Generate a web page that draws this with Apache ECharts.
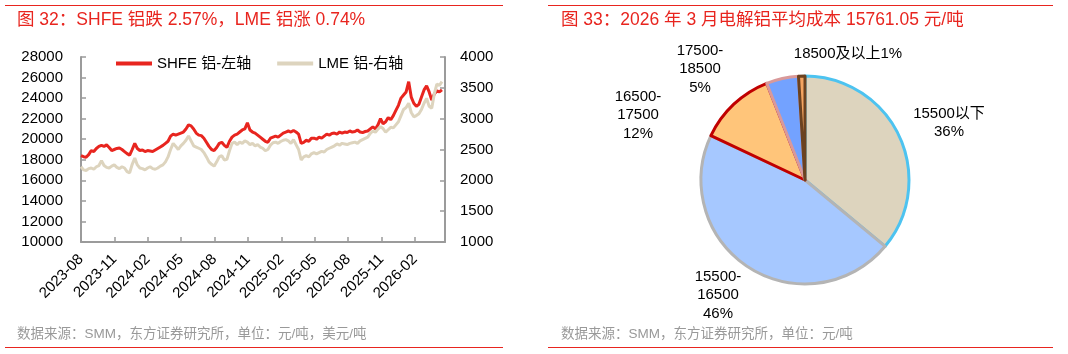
<!DOCTYPE html>
<html>
<head>
<meta charset="utf-8">
<script src="https://cdn.jsdelivr.net/npm/echarts@6/dist/echarts.min.js"></script>
<style>
  html, body { margin: 0; padding: 0; background: #fff; }
  #main { width: 1068px; height: 354px; }
</style>
</head>
<body>
<div id="main"></div>
<script>
// weekly closes from 2023-08 (one value per week)
const shfe = [
  18400,18300,18250,18500,18900,18800,19100,19300,19400,19300,
  19450,19200,18900,19000,19100,19150,19000,18800,18600,18450,
  19000,19600,19100,18900,18950,18800,18900,18850,18800,18950,
  19100,19250,19400,19600,19800,20300,20500,20400,20500,20600,
  20700,21000,21400,21300,21000,20600,20400,20350,20100,19700,
  19300,19000,18900,19200,19600,19700,19400,19200,19800,20200,
  20400,20500,20700,20900,21000,21600,20900,20700,20600,20400,
  20200,20000,19800,19700,20100,20200,20300,20200,20400,20600,
  20700,20800,20700,20850,20700,20500,19600,19700,19900,19800,
  20100,20100,20000,20200,20100,20300,20500,20400,20550,20600,
  20500,20700,20600,20700,20650,20800,20700,20750,20900,20700,
  20650,20750,20800,21000,21200,21000,21400,22000,21500,21700,
  22100,21900,22300,22800,23300,24000,24300,24600,25600,24100,
  23500,23200,23400,24100,24800,25200,24600,23800,24400,24700,
  24600,24800
];
const lme = [
  2220,2170,2160,2190,2200,2180,2220,2240,2320,2240,
  2210,2200,2230,2250,2210,2190,2220,2200,2140,2120,
  2260,2360,2250,2200,2190,2170,2200,2220,2190,2180,
  2200,2230,2250,2300,2380,2500,2600,2550,2500,2560,
  2600,2650,2720,2640,2560,2540,2520,2500,2450,2380,
  2300,2260,2230,2300,2380,2400,2330,2340,2480,2600,
  2620,2580,2620,2600,2640,2620,2580,2600,2560,2580,
  2540,2520,2480,2500,2570,2610,2620,2600,2630,2650,
  2660,2640,2600,2660,2580,2500,2330,2380,2400,2380,
  2430,2450,2430,2450,2470,2460,2500,2520,2540,2560,
  2590,2570,2600,2590,2580,2600,2610,2620,2600,2640,
  2660,2680,2700,2760,2800,2780,2830,2870,2840,2780,
  2820,2860,2850,2900,2950,3050,3150,3180,3250,3100,
  3030,3050,3080,3150,3250,3330,3200,3170,3400,3560,
  3540,3600
];
const xTickLabels = ['2023-08','2023-11','2024-02','2024-05','2024-08','2024-11',
                     '2025-02','2025-05','2025-08','2025-11','2026-02'];

const costNames = ['15500以下', '15500-16500', '16500-17500', '17500-18500', '18500及以上'];
const costShare = [36, 46, 12, 5, 1];

const FONT = '"Liberation Sans", "Noto Sans CJK SC", sans-serif';
const RED = '#e8251f';

// week index -> months since 2023-08
function monthPos(i) { return i * 7 / 30.4375; }

const pieFill = ['#ddd4be', '#a6c8ff', '#ffc57a', '#73a2ff', '#f4a460'];
const pieBorder = ['#4dc3f0', '#b4b4b4', '#c00000', '#d9999a', '#6b4220'];
const pieLabelAt = [[949, 123], [718, 295], [638, 115], [700, 69], [848, 54]];

const chart = echarts.init(document.getElementById('main'));

const axisGray = '#9b9b9b';

const option = {
  animation: false,
  textStyle: { fontFamily: FONT },
  legend: {
    left: 116,
    top: 56,
    padding: 0,
    icon: 'rect',
    itemWidth: 36,
    itemHeight: 4,
    itemGap: 26,
    textStyle: { fontSize: 15, color: '#000', fontFamily: FONT },
    data: ['SHFE 铝-左轴', 'LME 铝-右轴']
  },
  grid: { left: 81, top: 57, width: 364, height: 185 },
  xAxis: {
    type: 'value',
    min: 0,
    max: 32.7,
    interval: 3,
    splitLine: { show: false },
    axisLine: { lineStyle: { color: axisGray, width: 2 } },
    axisTick: { inside: true, length: 5, lineStyle: { color: axisGray, width: 1.5 } },
    axisLabel: {
      rotate: 45,
      margin: 15,
      fontSize: 15,
      color: '#000',
      fontFamily: FONT,
      showMaxLabel: false,
      formatter: function (v) {
        const k = Math.round(v / 3);
        return Math.abs(v - k * 3) < 1e-6 && xTickLabels[k] ? xTickLabels[k] : '';
      }
    }
  },
  yAxis: [
    {
      type: 'value',
      min: 10000, max: 28000, interval: 2000,
      splitLine: { show: false },
      axisLine: { show: true, lineStyle: { color: axisGray, width: 2 } },
      axisTick: { show: true, inside: true, length: 5, lineStyle: { color: axisGray, width: 1.5 } },
      axisLabel: { margin: 18, fontSize: 15, color: '#000', fontFamily: FONT, formatter: v => String(v) }
    },
    {
      type: 'value',
      position: 'right',
      min: 1000, max: 4000, interval: 500,
      splitLine: { show: false },
      axisLine: { show: true, lineStyle: { color: axisGray, width: 2 } },
      axisTick: { show: true, inside: true, length: 5, lineStyle: { color: axisGray, width: 1.5 } },
      axisLabel: { margin: 15, fontSize: 15, color: '#000', fontFamily: FONT, formatter: v => String(v) }
    }
  ],
  series: [
    {
      name: 'SHFE 铝-左轴',
      type: 'line',
      yAxisIndex: 0,
      symbol: 'none',
      color: RED,
      lineStyle: { width: 3, color: RED },
      data: shfe.map((v, i) => [monthPos(i), v])
    },
    {
      name: 'LME 铝-右轴',
      type: 'line',
      yAxisIndex: 1,
      symbol: 'none',
      color: '#ddd4be',
      lineStyle: { width: 3, color: '#ddd4be' },
      data: lme.map((v, i) => [monthPos(i), v])
    },
    {
      type: 'pie',
      center: [805, 180],
      radius: 104,
      startAngle: 90,
      clockwise: true,
      avoidLabelOverlap: false,
      data: costNames.map((n, i) => ({
        name: n,
        value: costShare[i],
        itemStyle: { color: pieFill[i], borderColor: pieBorder[i], borderWidth: 3 }
      })),
      label: {
        show: true,
        position: 'outside',
        fontSize: 15,
        lineHeight: 18.5,
        color: '#000',
        align: 'center',
        fontFamily: FONT,
        formatter: function (p) {
          if (p.name.indexOf('-') >= 0) {
            return p.name.replace('-', '-\n') + '\n' + p.value + '%';
          }
          if (p.name === '15500以下') return p.name + '\n' + p.value + '%';
          return p.name + p.value + '%';
        }
      },
      labelLine: { show: false },
      labelLayout: function (params) {
        const p = pieLabelAt[params.dataIndex];
        return { x: p[0], y: p[1], align: 'center', verticalAlign: 'middle' };
      }
    }
  ],
  graphic: [
    { type: 'line', shape: { x1: 5, y1: 5.5, x2: 503, y2: 5.5 }, style: { stroke: RED, lineWidth: 1 } },
    { type: 'line', shape: { x1: 5, y1: 347.5, x2: 503, y2: 347.5 }, style: { stroke: RED, lineWidth: 1 } },
    { type: 'line', shape: { x1: 548, y1: 5.5, x2: 1053, y2: 5.5 }, style: { stroke: RED, lineWidth: 1 } },
    { type: 'line', shape: { x1: 548, y1: 347.5, x2: 1053, y2: 347.5 }, style: { stroke: RED, lineWidth: 1 } },
    {
      type: 'text', x: 17, y: 20,
      style: { text: '图 32：SHFE 铝跌 2.57%，LME 铝涨 0.74%', fill: RED, font: '17.5px ' + FONT, verticalAlign: 'middle' }
    },
    {
      type: 'text', x: 561, y: 20,
      style: { text: '图 33：2026 年 3 月电解铝平均成本 15761.05 元/吨', fill: RED, font: '17.5px ' + FONT, verticalAlign: 'middle' }
    },
    {
      type: 'text', x: 17, y: 334,
      style: { text: '数据来源：SMM，东方证券研究所，单位：元/吨，美元/吨', fill: '#999', font: '13.5px ' + FONT, verticalAlign: 'middle' }
    },
    {
      type: 'text', x: 561, y: 334,
      style: { text: '数据来源：SMM，东方证券研究所，单位：元/吨', fill: '#999', font: '13.5px ' + FONT, verticalAlign: 'middle' }
    }
  ]
};

chart.setOption(option);
</script>
</body>
</html>
